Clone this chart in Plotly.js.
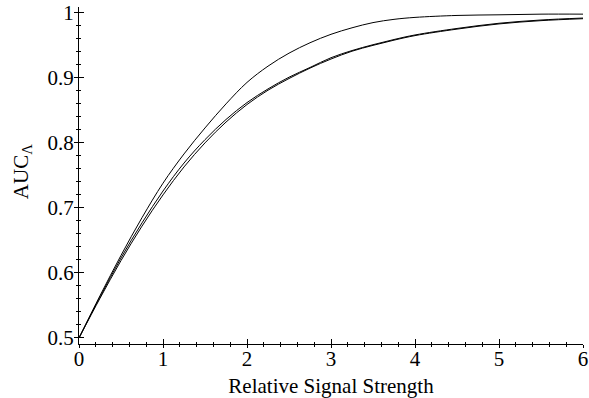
<!DOCTYPE html>
<html>
<head>
<meta charset="utf-8">
<script src="https://cdn.plot.ly/plotly-3.0.1.min.js"></script>
<style>html,body{margin:0;padding:0;background:#fff;}#chart{width:589px;height:398px;}</style>
</head>
<body>
<div id="chart"></div>
<script>
// Relative signal strength (x)
const signal = [0, 0.25, 0.5, 0.75, 1.0, 1.25, 1.5, 1.75, 2.0, 2.25, 2.5, 2.75, 3.0, 3.25, 3.5, 3.75, 4.0, 4.5, 5.0, 5.5, 6.0];
// Upper curve
const aucUpper = [0.5, 0.565, 0.627, 0.685, 0.738, 0.783, 0.823, 0.860, 0.893, 0.918, 0.938, 0.954, 0.967, 0.977, 0.985, 0.990, 0.993, 0.996, 0.997, 0.998, 0.998];
// Middle curve
const aucMiddle = [0.5, 0.563, 0.623, 0.677, 0.726, 0.769, 0.805, 0.836, 0.862, 0.883, 0.901, 0.916, 0.931, 0.942, 0.951, 0.959, 0.966, 0.976, 0.984, 0.989, 0.992];
// Lower curve
const aucLower = [0.5, 0.561, 0.619, 0.672, 0.720, 0.763, 0.800, 0.832, 0.859, 0.881, 0.899, 0.915, 0.929, 0.941, 0.950, 0.958, 0.965, 0.975, 0.983, 0.988, 0.991];

const xTicks = [0, 1, 2, 3, 4, 5, 6];
const xTickLabels = ['0', '1', '2', '3', '4', '5', '6'];
const yTicks = [0.5, 0.6, 0.7, 0.8, 0.9, 1];
const yTickLabels = ['0.5', '0.6', '0.7', '0.8', '0.9', '1'];
const xTitle = 'Relative Signal Strength';
const yTitle = 'AUC<sub>Λ</sub>';

const lineStyle = {color: '#000', width: 1, shape: 'spline', smoothing: 1};
const traces = [aucUpper, aucMiddle, aucLower].map(v => ({
  x: signal, y: v, type: 'scatter', mode: 'lines', line: lineStyle, hoverinfo: 'skip'
}));

const fam = 'Liberation Serif, Times New Roman, serif';
const tickFont = {family: fam, size: 21, color: '#000'};
const titleFont = {family: fam, size: 21, color: '#000'};
const xRange = [0, 6];
const yRange = [0.4907, 1.009];

const layout = {
  width: 589, height: 398,
  margin: {l: 79, r: 6, t: 7, b: 54},
  paper_bgcolor: '#fff', plot_bgcolor: '#fff',
  showlegend: false,
  font: tickFont,
  xaxis: {
    range: xRange, tickmode: 'array', tickvals: xTicks, ticktext: xTickLabels,
    showgrid: false, zeroline: false, showline: true, linecolor: '#000', linewidth: 1,
    ticks: 'outside', ticklen: 3, tickcolor: '#000', tickwidth: 1,
    ticklabelstandoff: -7,
    minor: {dtick: 0.2, ticks: 'outside', ticklen: 2, tickcolor: '#000', showgrid: false},
    tickfont: tickFont,
    title: {text: xTitle, font: titleFont, standoff: 8}
  },
  yaxis: {
    range: yRange, tickmode: 'array', tickvals: yTicks, ticktext: yTickLabels,
    showgrid: false, zeroline: false, showline: true, linecolor: '#000', linewidth: 1,
    ticks: 'outside', ticklen: 4, tickcolor: '#000', tickwidth: 1,
    ticklabelstandoff: -4,
    minor: {dtick: 0.02, ticks: 'outside', ticklen: 2, tickcolor: '#000', showgrid: false},
    tickfont: tickFont
  },
  xaxis2: {
    overlaying: 'x', matches: 'x', anchor: 'y', range: xRange,
    tickmode: 'array', tickvals: xTicks, showticklabels: false,
    showgrid: false, zeroline: false, showline: false,
    ticks: 'inside', ticklen: 5, tickcolor: '#000', tickwidth: 1,
    minor: {dtick: 0.2, ticks: 'inside', ticklen: 2, tickcolor: '#000', showgrid: false}
  },
  yaxis2: {
    overlaying: 'y', matches: 'y', anchor: 'x', side: 'left', range: yRange,
    tickmode: 'array', tickvals: yTicks, showticklabels: false,
    showgrid: false, zeroline: false, showline: false,
    ticks: 'inside', ticklen: 5, tickcolor: '#000', tickwidth: 1,
    minor: {dtick: 0.02, ticks: 'inside', ticklen: 2, tickcolor: '#000', showgrid: false}
  },
  annotations: [{
    text: yTitle, xref: 'paper', yref: 'paper', x: -0.113, y: 0.51,
    xanchor: 'center', yanchor: 'middle', textangle: -90, showarrow: false, font: titleFont
  }]
};

// invisible helper trace to activate the mirrored tick axes
traces.push({x: [signal[0]], y: [aucUpper[0]], xaxis: 'x2', yaxis: 'y2', type: 'scatter', mode: 'markers', marker: {opacity: 0}, hoverinfo: 'skip'});

Plotly.newPlot('chart', traces, layout, {staticPlot: true, displayModeBar: false});
</script>
</body>
</html>
